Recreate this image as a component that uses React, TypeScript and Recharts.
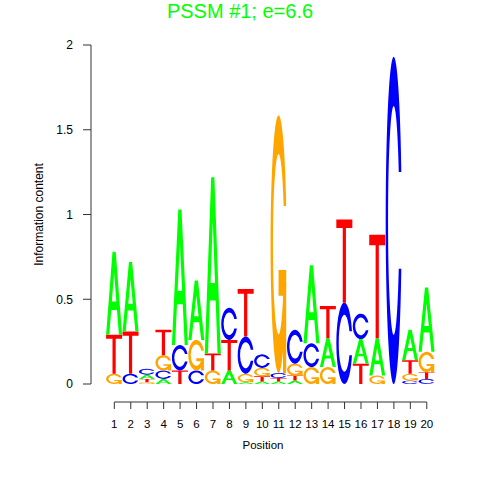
import * as React from "react";
import { BarChart, Bar, XAxis, YAxis, ReferenceLine } from "recharts";

// information content per base (bits)
const positions = ["1", "2", "3", "4", "5", "6", "7", "8", "9", "10", "11", "12", "13", "14", "15", "16", "17", "18", "19", "20"];
const infoA = [0.49, 0.41, 0.025, 0.03, 0.8, 0.35, 1.04, 0.08, 0.01, 0.015, 0.015, 0.02, 0.46, 0.17, 0, 0.145, 0.22, 0, 0.18, 0.38];
const infoC = [0, 0.06, 0.035, 0.05, 0.15, 0.08, 0, 0.19, 0.22, 0.08, 0.03, 0.2, 0.14, 0, 0.48, 0.15, 0, 1.93, 0.02, 0.03];
const infoG = [0.06, 0, 0.01, 0.09, 0, 0.18, 0.08, 0, 0.05, 0.05, 1.52, 0.07, 0.1, 0.1, 0, 0, 0.05, 0, 0.04, 0.12];
const infoT = [0.23, 0.25, 0.02, 0.15, 0.08, 0, 0.1, 0.18, 0.28, 0.03, 0.02, 0.03, 0, 0.19, 0.49, 0.12, 0.61, 0, 0.08, 0.04];
const yTicks = [0, 0.5, 1, 1.5, 2];

const COLORS: Record<string, string> = { A: "#00ff00", C: "#0000ff", G: "#ffa500", T: "#ff0000" };

// letters stacked smallest at the bottom, like seqLogo
const rows = positions.map((pos, i) => {
    const col = [
        { b: "A", v: infoA[i] },
        { b: "C", v: infoC[i] },
        { b: "G", v: infoG[i] },
        { b: "T", v: infoT[i] },
    ].sort((p, q) => p.v - q.v);
    const row: any = { pos };
    col.forEach((c, k) => {
        row["s" + k] = c.v;
        row["l" + k] = c.b;
    });
    return row;
});

// glyphs in a unit box, y pointing down
const A_PATH = "M0 1L0.4 0L0.6 0L1 1L0.8 1L0.68 0.7L0.32 0.7L0.2 1Z M0.36 0.6L0.5 0.25L0.64 0.6Z";
const C_PATH = "M0.978 0.352A0.5 0.5 0 1 0 0.978 0.648L0.817 0.648A0.35 0.35 0 1 1 0.817 0.352Z";
const G_BAR = "M0.978 0.6L0.5 0.6L0.5 0.7L0.778 0.7L0.778 1L0.978 1Z";
const T_PATH = "M0 0L1 0L1 0.1L0.6 0.1L0.6 1L0.4 1L0.4 0.1L0 0.1Z";

const makeLetter = (slot: number) => (props: any) => {
    const { x, y, width, height, payload } = props;
    if (!height || height <= 0) return <g />;
    const base: string = payload["l" + slot];
    const fill = COLORS[base];
    return (
        <g transform={`translate(${x},${y}) scale(${width},${height})`} fill={fill}>
            {base === "A" && <path d={A_PATH} fillRule="evenodd" />}
            {base === "C" && <path d={C_PATH} />}
            {base === "G" && <path d={C_PATH} />}
            {base === "G" && <path d={G_BAR} />}
            {base === "T" && <path d={T_PATH} />}
        </g>
    );
};

const PosTick = (props: any) => {
    const { x, y, payload } = props;
    return (
        <g>
            <line x1={x} x2={x} y1={y + 18} y2={y + 25} stroke="#333" />
            <text x={x} y={y + 43.5} textAnchor="middle" fontSize={11.5} fill="#000">
                {payload.value}
            </text>
        </g>
    );
};

export default function App() {
    return (
        <div style={{ position: "absolute", left: 0, top: 0, width: 480, height: 480, background: "#fff",
            fontFamily: "'Liberation Sans', Arial, sans-serif" }}>
            <div style={{ position: "absolute", left: 0, top: 0, width: 480, textAlign: "center",
                fontSize: 20, lineHeight: "22px", color: "#00ff00" }}>
                PSSM #1; e=6.6
            </div>
            <BarChart width={480} height={480} data={rows} barCategoryGap={0} barGap={0}
                margin={{ top: 45, right: 45, bottom: 0, left: 0 }}>
                <XAxis dataKey="pos" type="category" interval={0} height={96}
                    padding={{ left: 15.1, right: 0 }}
                    axisLine={false} tickLine={false} tickSize={0} tickMargin={0}
                    tick={<PosTick />}
                    label={{ value: "Position", position: "insideBottom", offset: 31, fontSize: 11.5, fill: "#000" }} />
                <YAxis type="number" domain={[0, 2]} ticks={yTicks} width={91}
                    tickSize={8} tickMargin={10} stroke="#333"
                    tick={{ fontSize: 12, fill: "#000" }}
                    tickFormatter={(v: number) => String(v)}
                    label={{ value: "Information content", angle: -90, position: "center", dx: -7, fontSize: 12, fill: "#000" }} />
                <ReferenceLine segment={[{ x: "1", y: -0.1062 }, { x: "20", y: -0.1062 }]}
                    stroke="#333" ifOverflow="visible" />
                {[0, 1, 2, 3].map((k) => (
                    <Bar key={k} dataKey={"s" + k} stackId="logo" shape={makeLetter(k)} isAnimationActive={false} />
                ))}
            </BarChart>
        </div>
    );
}
